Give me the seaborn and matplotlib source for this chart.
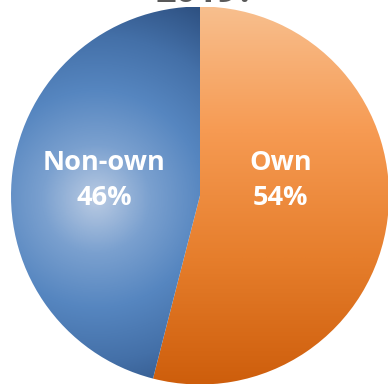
import matplotlib
matplotlib.use("Agg")
import matplotlib.pyplot as plt
import numpy as np
import seaborn as sns
from matplotlib.colors import LinearSegmentedColormap

labels = ["Own", "Non-own"]
values = [54, 46]
title = "2019?"

sns.set_theme(style="white")
plt.rcParams['font.family'] = ['Open Sans', 'DejaVu Sans']

fig = plt.figure(figsize=(3.88, 3.87), dpi=100)
ax = fig.add_axes([11 / 388, 2.5 / 387, 378 / 388, 378 / 387])

wedges, texts = ax.pie(values, labels=[f"{l}\n{v}%" for l, v in zip(labels, values)],
                       startangle=90, counterclock=False, labeldistance=0.43,
                       colors=["none", "none"], wedgeprops=dict(linewidth=0),
                       textprops=dict(color="white", fontsize=19.5, fontweight="bold",
                                      ha="center", va="center", linespacing=1.45))
ax.set_xlim(-1, 1)
ax.set_ylim(-1, 1)
ax.set_aspect("equal")
ax.axis("off")

# gradient fills clipped to each wedge
n = 400
xs = np.linspace(-1, 1, n)
X, Y = np.meshgrid(xs, xs[::-1])

orange = LinearSegmentedColormap.from_list("o", ["#CE5E0C", "#E67E2C", "#F69A52", "#F8BF8E"])
img_o = ax.imshow((Y + 1) / 2, cmap=orange, extent=[-1, 1, -1, 1], zorder=0, vmin=0, vmax=1)
img_o.set_clip_path(wedges[0])

blue = LinearSegmentedColormap.from_list("b", ["#BACBE3", "#7AA0CF", "#5686C0", "#4470A8", "#2E5182"])
d = np.sqrt((X + 0.55) ** 2 + (Y + 0.02) ** 2) / 1.15
img_b = ax.imshow(np.clip(d, 0, 1), cmap=blue, extent=[-1, 1, -1, 1], zorder=0, vmin=0, vmax=1)
img_b.set_clip_path(wedges[1])

for t in texts:
    t.set_y(0.08)
    t.set_zorder(3)
texts[1].set_x(texts[1].get_position()[0] - 0.08)

fig.text(205 / 388, 1 - 2.5 / 387, title, ha="center", va="baseline",
         fontsize=26, fontweight="bold", color="#595959")

fig.savefig("out.png", dpi=100)
